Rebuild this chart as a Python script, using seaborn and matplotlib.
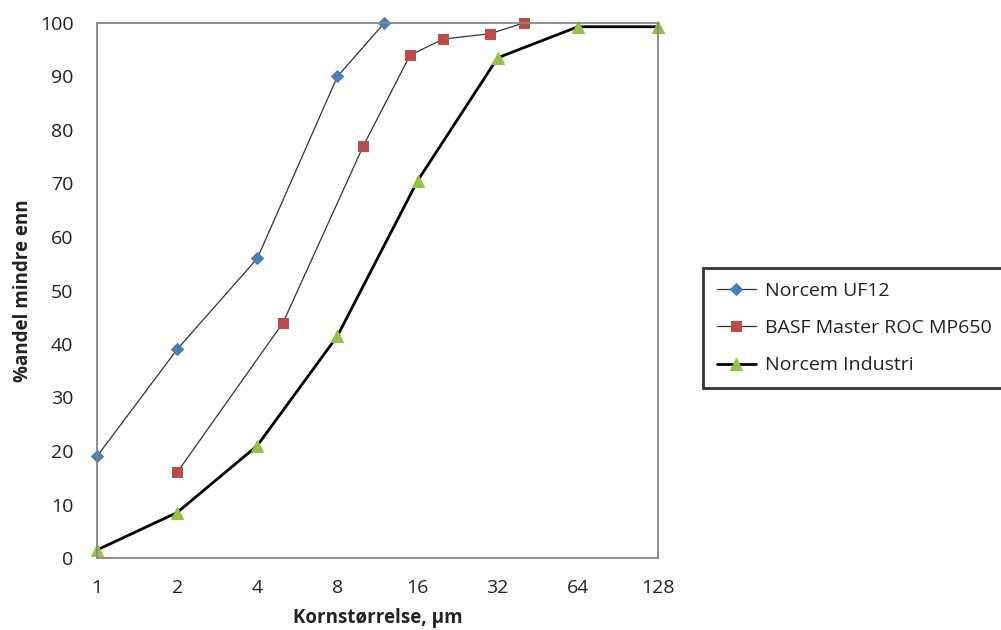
import matplotlib
matplotlib.use("Agg")
import matplotlib.pyplot as plt
import seaborn as sns
import pandas as pd
from matplotlib.ticker import FixedLocator, FixedFormatter, NullLocator

sns.set_theme(style="white")
plt.rcParams['font.family'] = ['Open Sans', 'DejaVu Sans']

uf12_x = [1, 2, 4, 8, 12]
uf12_y = [19, 39, 56, 90, 100]
basf_x = [2, 5, 10, 15, 20, 30, 40]
basf_y = [16, 44, 77, 94, 97, 98, 100]
ind_x = [1, 2, 4, 8, 16, 32, 64, 128]
ind_y = [1.5, 8.5, 21, 41.5, 70.5, 93.5, 99.3, 99.3]
x_ticks = [1, 2, 4, 8, 16, 32, 64, 128]
y_ticks = [0, 10, 20, 30, 40, 50, 60, 70, 80, 90, 100]
labels = ["Norcem UF12", "BASF Master ROC MP650", "Norcem Industri"]

fig = plt.figure(figsize=(10.01, 6.3), dpi=100)
ax = fig.add_axes([97/1001, 1-558/630, (658-97)/1001, (558-23)/630])

df1 = pd.DataFrame({"x": uf12_x, "y": uf12_y})
df2 = pd.DataFrame({"x": basf_x, "y": basf_y})
df3 = pd.DataFrame({"x": ind_x, "y": ind_y})

sns.lineplot(data=df1, x="x", y="y", ax=ax, color="#333333", lw=0.9,
             marker="D", ms=6.5, mfc="#4A7EBB", mec="#4A7EBB", label=labels[0], clip_on=False)
sns.lineplot(data=df2, x="x", y="y", ax=ax, color="#333333", lw=0.9,
             marker="s", ms=7.5, mfc="#BE4B48", mec="#BE4B48", label=labels[1], clip_on=False)
sns.lineplot(data=df3, x="x", y="y", ax=ax, color="black", lw=2.0,
             marker="^", ms=8, mfc="#8DC63F", mec="#8DC63F", label=labels[2], clip_on=False)

ax.set_xscale("log", base=2)
ax.set_xlim(1, 128)
ax.set_ylim(0, 100)
ax.xaxis.set_major_locator(FixedLocator(x_ticks))
ax.xaxis.set_major_formatter(FixedFormatter([str(t) for t in x_ticks]))
ax.xaxis.set_minor_locator(NullLocator())
ax.set_yticks(y_ticks)
ax.set_yticklabels([str(t) for t in y_ticks])

for s in ax.spines.values():
    s.set_color("#868686")
    s.set_linewidth(1.3)
    s.set_visible(True)
ax.tick_params(axis="both", direction="out", length=6, width=1.3, color="#868686",
               labelsize=14, labelcolor="#222222")
ax.tick_params(axis="y", pad=11)
ax.tick_params(axis="x", pad=9)

ax.set_xlabel("Kornstørrelse, µm", fontsize=13.5, fontweight="bold", color="#222222", labelpad=8)
ax.set_ylabel("%andel mindre enn", fontsize=13.5, fontweight="bold", color="#222222", labelpad=5)

leg = ax.legend(loc="upper left", bbox_to_anchor=(703/1001, 1-268/630),
                bbox_transform=fig.transFigure, frameon=True, fancybox=False,
                fontsize=14, handlelength=2.0, handletextpad=0.5,
                labelspacing=1.0, borderpad=0.7, borderaxespad=0)
leg.get_frame().set_edgecolor("black")
leg.get_frame().set_linewidth(2)
for t in leg.get_texts():
    t.set_color("#222222")

fig.savefig("out.png", dpi=100)
